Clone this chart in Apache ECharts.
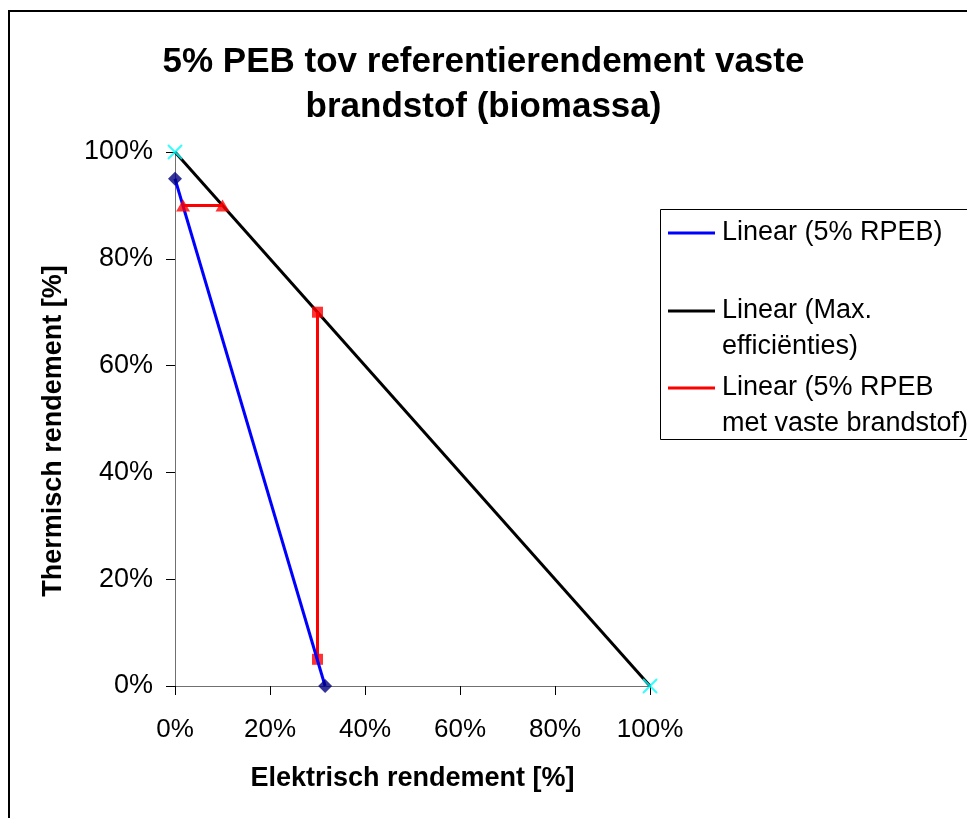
<!DOCTYPE html>
<html>
<head>
<meta charset="utf-8">
<script src="https://cdn.jsdelivr.net/npm/echarts@6/dist/echarts.min.js"></script>
<style>
  html, body { margin: 0; padding: 0; background: #fff; }
  #chart { width: 967px; height: 818px; }
</style>
</head>
<body>
<div id="chart"></div>
<script>
// Efficiency pairs [electrical, thermal] as fractions
const rpebPoints = [[0, 0.95], [0.316, 0]];            // 5% RPEB
const maxEffPoints = [[0, 1.0], [1.0, 0]];             // max. efficiencies
const solidFuelTriangles = [[0.017, 0.9], [0.1, 0.9]]; // 5% RPEB, solid fuel (thermal limit)
const solidFuelSquares = [[0.3, 0.7], [0.3, 0.05]];    // 5% RPEB, solid fuel (electrical limit)

const titleLines = ['5% PEB tov referentierendement vaste', 'brandstof (biomassa)'];
const xAxisTitle = 'Elektrisch rendement [%]';
const yAxisTitle = 'Thermisch rendement [%]';
const legendEntries = [
  { lines: ['Linear (5% RPEB)'], color: '#0000FF' },
  { lines: ['Linear (Max.', 'efficiënties)'], color: '#000000' },
  { lines: ['Linear (5% RPEB', 'met vaste brandstof)'], color: '#FF0000' }
];

const FONT = '"Liberation Sans", Arial, sans-serif';
const chart = echarts.init(document.getElementById('chart'));

const pct = v => Math.round(v * 100) + '%';

// Legend box built as graphic elements (icon aligned with the first text line)
const legendTop = [233, 311, 388];
const legendGraphics = [{
  type: 'rect',
  shape: { x: 660.5, y: 209.5, width: 400, height: 230 },
  style: { fill: '#fff', stroke: '#000', lineWidth: 1 },
  z: 10
}];
legendEntries.forEach((e, i) => {
  const y = legendTop[i];
  legendGraphics.push({
    type: 'line',
    shape: { x1: 668, y1: y, x2: 715, y2: y },
    style: { stroke: e.color, lineWidth: 3 },
    z: 11
  });
  legendGraphics.push({
    type: 'text',
    x: 722, y: y - 18,
    style: {
      text: e.lines.join('\n'),
      font: '27px ' + FONT,
      fill: '#000',
      lineHeight: 36,
      verticalAlign: 'top'
    },
    z: 11
  });
});

const option = {
  backgroundColor: '#fff',
  animation: false,
  title: {
    text: titleLines.join('\n'),
    left: 'center',
    top: 35,
    textStyle: { fontFamily: FONT, fontSize: 35, fontWeight: 'bold', color: '#000', lineHeight: 45 }
  },
  grid: { left: 175, right: 317, top: 152, bottom: 132 },
  xAxis: {
    type: 'value', min: 0, max: 1, interval: 0.2,
    name: xAxisTitle, nameLocation: 'middle', nameGap: 79,
    nameTextStyle: { fontFamily: FONT, fontSize: 27, fontWeight: 'bold', color: '#000' },
    axisLine: { show: true, lineStyle: { color: '#707070', width: 1 } },
    axisTick: { show: true, inside: false, length: 9, lineStyle: { color: '#000' } },
    axisLabel: { formatter: pct, margin: 31, fontFamily: FONT, fontSize: 26, color: '#000' },
    splitLine: { show: false }
  },
  yAxis: {
    type: 'value', min: 0, max: 1, interval: 0.2,
    name: yAxisTitle, nameLocation: 'middle', nameGap: 108, nameRotate: 90,
    nameTextStyle: { fontFamily: FONT, fontSize: 27, fontWeight: 'bold', color: '#000', padding: [0, 24, 0, 0] },
    axisLine: { show: true, lineStyle: { color: '#707070', width: 1 } },
    axisTick: { show: true, inside: false, length: 9, lineStyle: { color: '#000' } },
    axisLabel: { formatter: pct, margin: 22, fontFamily: FONT, fontSize: 27, color: '#000' },
    splitLine: { show: false }
  },
  graphic: [
    {
      type: 'rect',
      shape: { x: 9, y: 11, width: 1100, height: 1000 },
      style: { fill: 'none', stroke: '#000', lineWidth: 2 },
      z: 0
    }
  ].concat(legendGraphics),
  series: [
    {
      name: 'Linear (Max. efficiënties)', type: 'line', data: maxEffPoints,
      showSymbol: false, lineStyle: { color: '#000', width: 3 }, z: 2
    },
    {
      name: 'Linear (5% RPEB)', type: 'line', data: rpebPoints,
      showSymbol: false, lineStyle: { color: '#0000FF', width: 3 }, z: 3
    },
    {
      name: 'Linear (5% RPEB met vaste brandstof) a', type: 'line', data: solidFuelTriangles,
      showSymbol: false, lineStyle: { color: '#FF0000', width: 3 }, z: 2
    },
    {
      name: 'Linear (5% RPEB met vaste brandstof) b', type: 'line', data: solidFuelSquares,
      showSymbol: false, lineStyle: { color: '#FF0000', width: 3 }, z: 2
    },
    {
      name: 'Max. efficiënties', type: 'scatter', data: maxEffPoints,
      symbol: 'path://M0,0L10,10M10,0L0,10', symbolSize: 14,
      itemStyle: { color: 'none', borderColor: '#00FFFF', borderWidth: 2 }, z: 5
    },
    {
      name: '5% RPEB', type: 'scatter', data: rpebPoints,
      symbol: 'diamond', symbolSize: [14, 14],
      itemStyle: { color: '#000080' }, z: 5
    },
    {
      name: 'Vaste brandstof (thermisch)', type: 'scatter', data: solidFuelTriangles,
      symbol: 'triangle', symbolSize: [14, 12],
      itemStyle: { color: '#FF0000' }, z: 4
    },
    {
      name: 'Vaste brandstof (elektrisch)', type: 'scatter', data: solidFuelSquares,
      symbol: 'rect', symbolSize: 11,
      itemStyle: { color: '#FF0000' }, z: 2
    }
  ]
};

chart.setOption(option);
</script>
</body>
</html>
